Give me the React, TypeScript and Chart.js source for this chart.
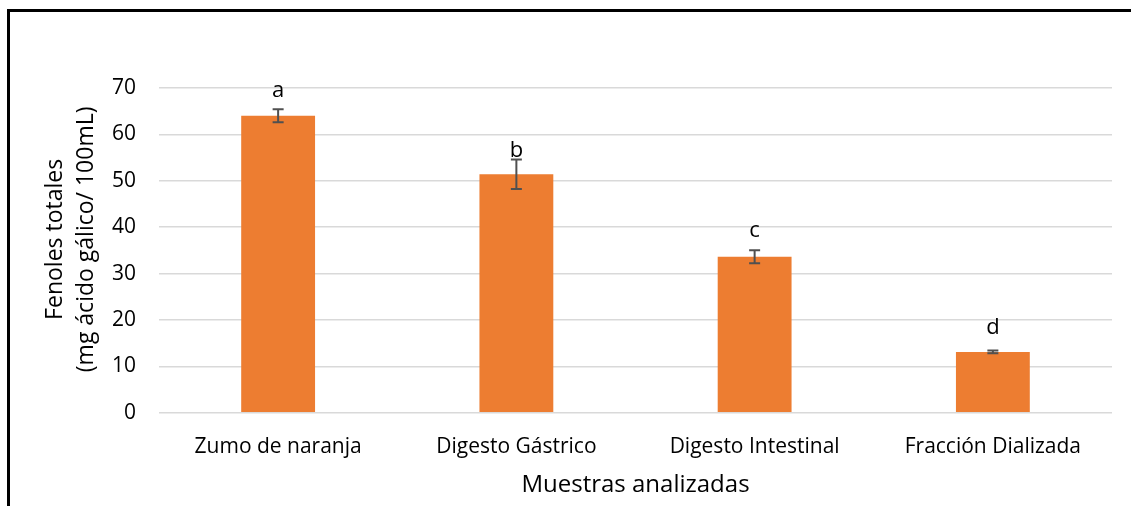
import React, { useEffect, useRef } from "react";
import { Chart, registerables } from "chart.js";

Chart.register(...registerables);

// Samples and total phenolics (mg gallic acid / 100 mL)
const categories = ["Zumo de naranja", "Digesto Gástrico", "Digesto Intestinal", "Fracción Dializada"];
const phenolValues = [64.0, 51.4, 33.6, 13.1];
const phenolErrors = [1.4, 3.2, 1.4, 0.3];
const groupLetters = ["a", "b", "c", "d"];
// value (in axis units) at which each significance letter sits
const letterAnchors = [68.1, 55.2, 37.8, 17.0];

const yMin = 0;
const yMax = 70;
const yStep = 10;

const FONT = "'Open Sans', sans-serif";
const BAR_COLOR = "#ED7D31";
const ERR_COLOR = "#505050";
const TEXT_COLOR = "#000000";

const framePlugin = {
  id: "frame",
  beforeDraw(chart: any) {
    const { ctx, width, height } = chart;
    ctx.save();
    ctx.fillStyle = "#ffffff";
    ctx.fillRect(0, 0, width, height);
    ctx.fillStyle = "#000000";
    ctx.fillRect(7, 9, width - 7, 3);
    ctx.fillRect(7, 9, 3, height - 9);
    ctx.restore();
  },
};

const errorBarPlugin = {
  id: "errorBarsAndLetters",
  afterDatasetsDraw(chart: any) {
    const { ctx } = chart;
    const yScale = chart.scales.y;
    const meta = chart.getDatasetMeta(0);
    ctx.save();
    meta.data.forEach((bar: any, i: number) => {
      const x = bar.x;
      const top = yScale.getPixelForValue(phenolValues[i] + phenolErrors[i]);
      const bottom = yScale.getPixelForValue(phenolValues[i] - phenolErrors[i]);
      ctx.strokeStyle = ERR_COLOR;
      ctx.lineWidth = 2;
      ctx.beginPath();
      ctx.moveTo(x, top);
      ctx.lineTo(x, bottom);
      ctx.moveTo(x - 5.5, top);
      ctx.lineTo(x + 5.5, top);
      ctx.moveTo(x - 5.5, bottom);
      ctx.lineTo(x + 5.5, bottom);
      ctx.stroke();

      ctx.fillStyle = TEXT_COLOR;
      ctx.font = `22px ${FONT}`;
      ctx.textAlign = "center";
      ctx.textBaseline = "alphabetic";
      ctx.fillText(groupLetters[i], x, yScale.getPixelForValue(letterAnchors[i]));
    });
    ctx.restore();
  },
};

const yTitlePlugin = {
  id: "yTitle",
  afterDraw(chart: any) {
    const { ctx, chartArea } = chart;
    const cy = (chartArea.top + chartArea.bottom) / 2 - 11;
    ctx.save();
    ctx.translate(0, cy);
    ctx.rotate(-Math.PI / 2);
    ctx.fillStyle = TEXT_COLOR;
    ctx.font = `23px ${FONT}`;
    ctx.textAlign = "center";
    ctx.textBaseline = "alphabetic";
    ctx.fillText("Fenoles totales", 0, 62);
    ctx.fillText("(mg ácido gálico/ 100mL)", 0, 93);
    ctx.restore();
  },
};

export default function App() {
  const canvasRef = useRef<HTMLCanvasElement | null>(null);

  useEffect(() => {
    const canvas = canvasRef.current;
    if (!canvas) return;
    const chart = new Chart(canvas, {
      type: "bar",
      data: {
        labels: categories,
        datasets: [
          {
            data: phenolValues,
            backgroundColor: BAR_COLOR,
            borderWidth: 0,
            categoryPercentage: 1,
            barPercentage: 0.31,
          },
        ],
      },
      options: {
        animation: false,
        responsive: false,
        devicePixelRatio: 1,
        layout: { padding: { top: 88, right: 19, left: 0, bottom: 0 } },
        plugins: {
          legend: { display: false },
          tooltip: { enabled: false },
        },
        scales: {
          x: {
            grid: { display: false },
            border: { display: false },
            ticks: {
              color: TEXT_COLOR,
              font: { family: FONT, size: 21 },
              padding: 14,
              maxRotation: 0,
              autoSkip: false,
            },
            title: {
              display: true,
              text: "Muestras analizadas",
              color: TEXT_COLOR,
              font: { family: FONT, size: 24 },
              padding: { top: 0, bottom: 6.7 },
            },
            afterFit: (scale: any) => {
              scale.height = 93.3;
            },
          },
          y: {
            min: yMin,
            max: yMax,
            grid: { color: "#d9d9d9", lineWidth: 1.5, drawTicks: false },
            border: { display: false },
            ticks: {
              stepSize: yStep,
              color: TEXT_COLOR,
              font: { family: FONT, size: 21 },
              padding: 23,
            },
            afterFit: (scale: any) => {
              scale.width = 159;
            },
          },
        },
      },
      plugins: [framePlugin, errorBarPlugin, yTitlePlugin],
    });
    return () => chart.destroy();
  }, []);

  return (
    <div style={{ position: "fixed", left: 0, top: 0, width: 1131, height: 506, background: "#fff" }}>
      <canvas ref={canvasRef} width={1131} height={506} style={{ display: "block" }} />
    </div>
  );
}
